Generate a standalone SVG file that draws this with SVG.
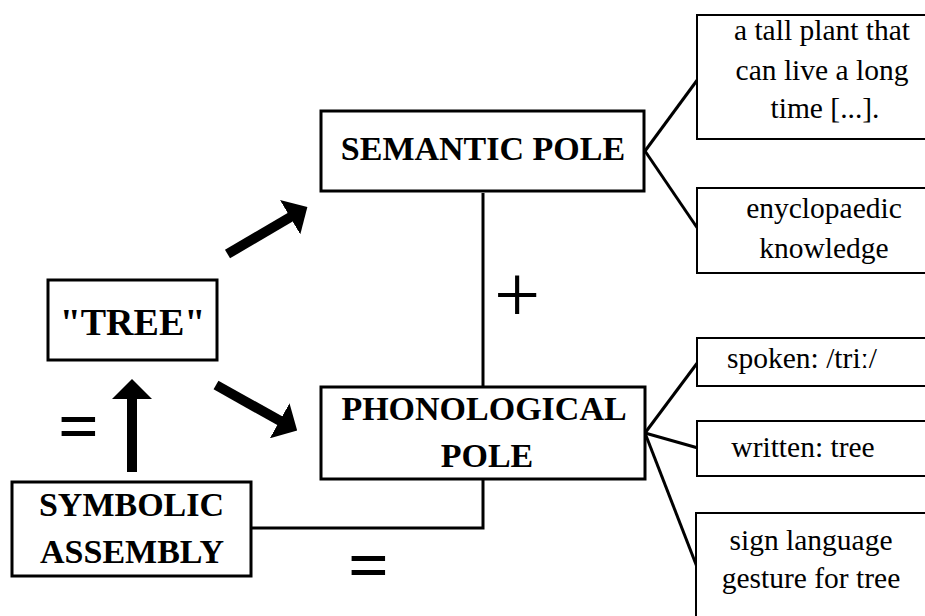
<svg xmlns="http://www.w3.org/2000/svg" width="925" height="616" viewBox="0 0 925 616">
<style>
text{font-family:"Liberation Serif","Times New Roman",serif;fill:#000;text-anchor:middle}
.box{fill:#fff;stroke:#000;stroke-width:3}
.tbox{fill:#fff;stroke:#000;stroke-width:2}
.b{font-weight:bold;font-size:34px}
.r{font-size:29.5px}
.ln{stroke:#000;stroke-width:3;fill:none}
.arr{stroke:#000;stroke-width:10;fill:none;marker-end:url(#ah)}
</style>
<defs>
<marker id="ah" markerUnits="userSpaceOnUse" viewBox="0 0 20 40" refX="1" refY="20" markerWidth="20" markerHeight="40" orient="auto">
<path d="M0,0 L20,20 L0,40 z" fill="#000"/>
</marker>
</defs>
<rect width="925" height="616" fill="#fff"/>
<g id="connectors">
<line class="ln" x1="645" y1="151" x2="698" y2="79"/>
<line class="ln" x1="645" y1="151" x2="698" y2="229"/>
<line class="ln" x1="483" y1="193" x2="483" y2="388"/>
<polyline class="ln" points="251,528 483,528 483,478"/>
<line class="ln" x1="645" y1="433" x2="698" y2="362"/>
<line class="ln" x1="645" y1="433" x2="698" y2="448"/>
<line class="ln" x1="645" y1="433" x2="697" y2="567"/>
<line class="arr" x1="227.5" y1="254" x2="291" y2="216.7"/>
<line class="arr" x1="216" y1="385" x2="280.6" y2="421.2"/>
<line class="arr" x1="132" y1="472" x2="132" y2="398"/>
</g>
<g id="semantic-pole">
<rect class="box" x="321" y="111" width="323" height="80"/>
<text class="b" x="483" y="160">SEMANTIC POLE</text>
</g>
<g id="phonological-pole">
<rect class="box" x="321" y="387" width="324" height="92"/>
<text class="b" x="484" y="420">PHONOLOGICAL</text>
<text class="b" x="487" y="467">POLE</text>
</g>
<g id="tree">
<rect class="box" x="48" y="280" width="169" height="80"/>
<text class="b" x="132.5" y="335" style="font-size:38px">"TREE"</text>
</g>
<g id="symbolic-assembly">
<rect class="box" x="12" y="482" width="239" height="94"/>
<text class="b" x="131.5" y="516">SYMBOLIC</text>
<text class="b" x="132" y="563">ASSEMBLY</text>
</g>
<g id="definition">
<rect class="tbox" x="697" y="15" width="240" height="124"/>
<text class="r" x="822" y="40">a tall plant that</text>
<text class="r" x="822" y="80">can live a long</text>
<text class="r" x="825" y="118">time [...].</text>
</g>
<g id="encyclopaedic">
<rect class="tbox" x="697" y="188" width="240" height="85"/>
<text class="r" x="824" y="218">enyclopaedic</text>
<text class="r" x="824" y="258">knowledge</text>
</g>
<g id="spoken">
<rect class="tbox" x="697" y="338" width="240" height="48"/>
<text class="r" x="802" y="368">spoken: /triː/</text>
</g>
<g id="written">
<rect class="tbox" x="697" y="421" width="240" height="55"/>
<text class="r" x="803" y="457">written: tree</text>
</g>
<g id="sign">
<rect class="tbox" x="696" y="513" width="240" height="120"/>
<text class="r" x="811" y="550">sign language</text>
<text class="r" x="811" y="588">gesture for tree</text>
</g>
<g id="signs">
<text class="b" x="78.5" y="450" style="font-size:72px">=</text>
<text class="b" x="368.5" y="589" style="font-size:72px">=</text>
<text x="517" y="322" style="font-size:82px">+</text>
</g>
</svg>
